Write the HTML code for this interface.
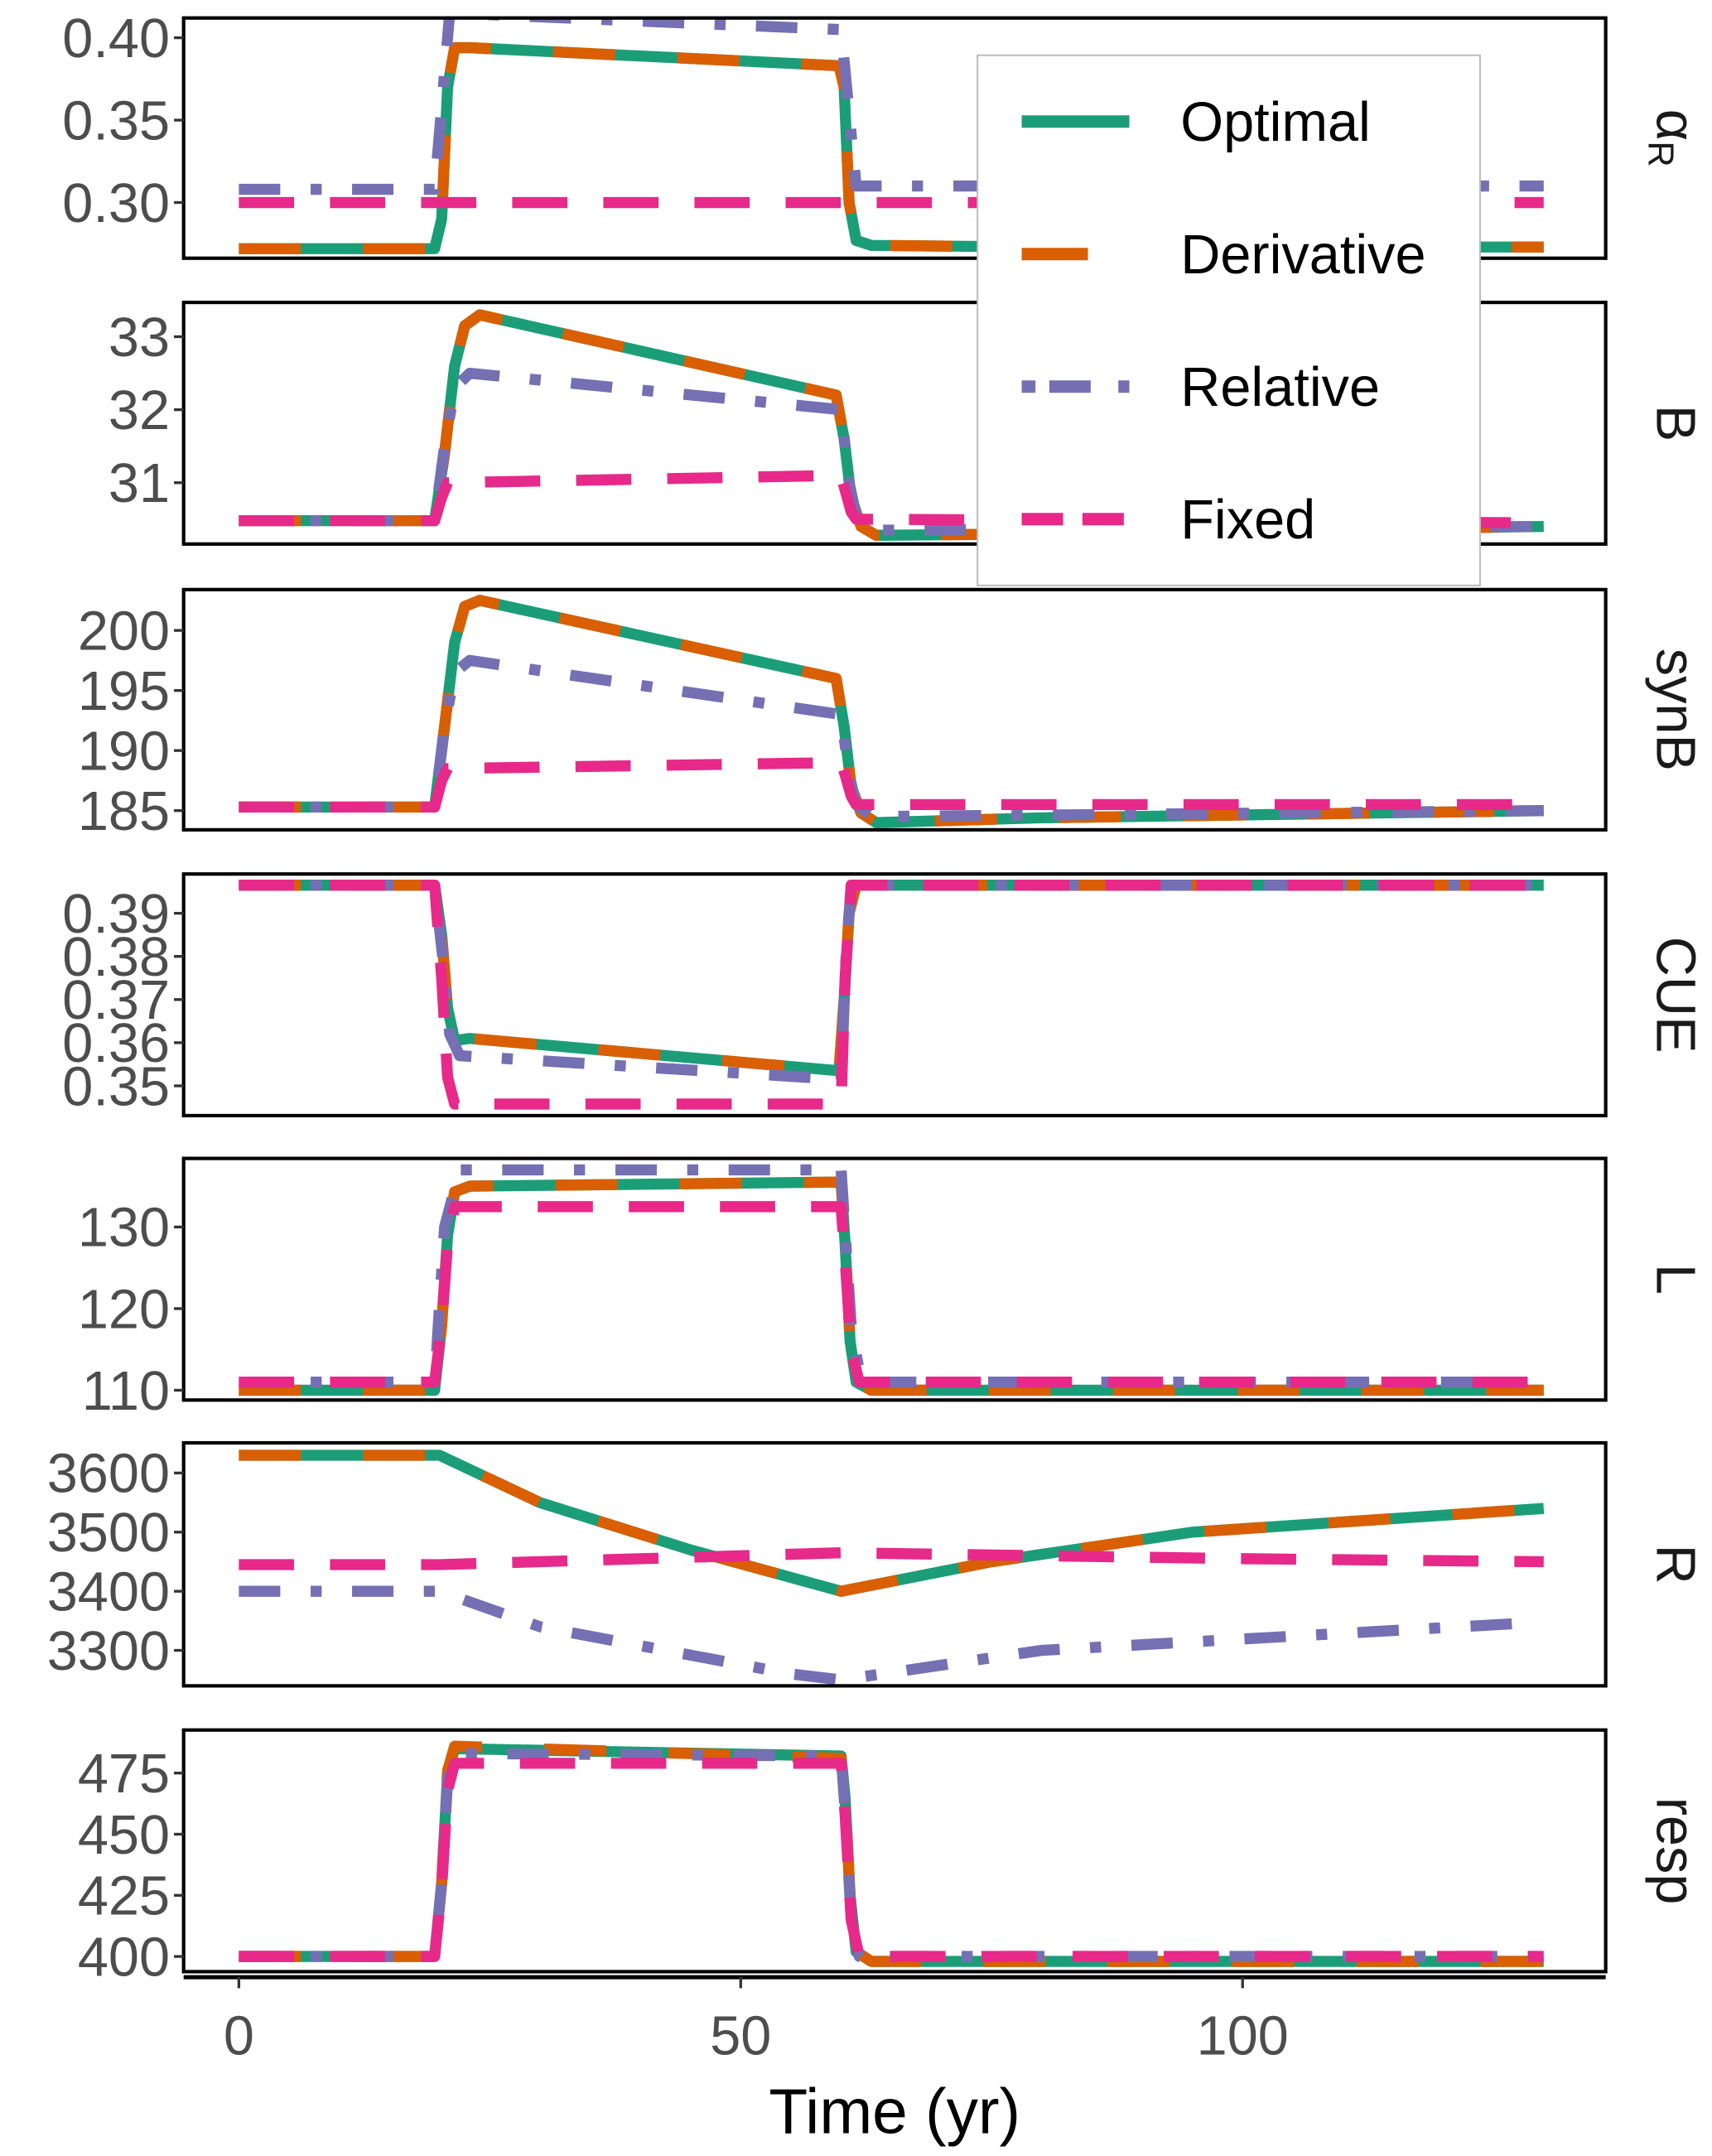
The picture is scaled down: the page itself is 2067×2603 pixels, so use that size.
<!DOCTYPE html>
<html><head><meta charset="utf-8"><style>
html,body{margin:0;padding:0;background:#fff}
svg{display:block}
text{font-family:"Liberation Sans",sans-serif}
</style></head><body>
<svg id="chart" xmlns="http://www.w3.org/2000/svg" width="2067" height="2603" viewBox="0 0 1240 1561.5">
<defs id="defs"></defs>
<g id="panels"></g>
<g id="legend">
<rect x="708" y="40" width="364" height="384" fill="#fff" stroke="#bbb" stroke-width="1.2"/>
</g>
</svg>
<script>
const seriesNames = ["Optimal","Derivative","Relative","Fixed"];
const colors = ["#1b9e77","#d95f02","#7570b3","#e7298a"];
const dashes = ["", "45 45", "30 22 8 22", "40 26"];
const xTicks = [0,50,100];

const tA = [0,19.5,20.2,20.8,21.5,23,59.8,60.3,60.8,61.5,63,80,130];
const panelLabels = ["αR","B","synB","CUE","L","R","resp"];
const panelTops = [13,219,427,633,839,1045,1253];
const panelBots = [187,394,601,808,1014,1221,1428];
const yDomains = [[0.2662,0.412],[30.16,33.47],[183.4,203.4],[0.3431,0.3991],[108.8,138.4],[3240,3651],[393.8,492.6]];
const yTicks = [[0.30,0.35,0.40],[31,32,33],[185,190,195,200],[0.35,0.36,0.37,0.38,0.39],[110,120,130],[3300,3400,3500,3600],[400,425,450,475]];
const tickFmt = [2,0,0,2,0,0,0];

const pAlpha = [
 {t:tA, v:[0.272,0.272,0.29,0.37,0.394,0.394,0.383,0.37,0.3,0.277,0.274,0.273,0.273]},
 {t:tA, v:[0.272,0.272,0.29,0.37,0.394,0.394,0.383,0.37,0.3,0.277,0.274,0.273,0.273]},
 {t:[0,19.5,21,60,61.5,130], v:[0.308,0.308,0.415,0.405,0.31,0.31]},
 {t:[0,130], v:[0.30,0.30]}];
const pB = [
 {t:[0,19.5,20.5,21.5,22.5,24,59.5,60.3,61,62,63.5,80,130], v:[30.48,30.48,31.4,32.6,33.15,33.3,32.2,31.6,30.8,30.4,30.28,30.3,30.4]},
 {t:[0,19.5,20.5,21.5,22.5,24,59.5,60.3,61,62,63.5,80,130], v:[30.48,30.48,31.4,32.6,33.15,33.3,32.2,31.6,30.8,30.4,30.28,30.3,30.4]},
 {t:[0,19.5,20.5,21.5,23,60,60.8,61.5,63,130], v:[30.48,30.48,31.5,32.3,32.5,32.0,31.0,30.55,30.35,30.4]},
 {t:[0,19.5,20.2,20.8,60,60.4,61,61.5,130], v:[30.48,30.48,30.8,31.0,31.1,30.9,30.6,30.5,30.45]}];
const pSyn = [
 {t:[0,19.5,20.5,21.5,22.5,24,59.5,60.3,61,62,63.5,80,130], v:[185.3,185.3,192,199,202,202.5,196,192,187,184.8,184,184.4,185]},
 {t:[0,19.5,20.5,21.5,22.5,24,59.5,60.3,61,62,63.5,80,130], v:[185.3,185.3,192,199,202,202.5,196,192,187,184.8,184,184.4,185]},
 {t:[0,19.5,20.5,21.5,23,60,60.8,61.5,63,130], v:[185.3,185.3,192,196.5,197.5,193,188,185.5,184.5,185]},
 {t:[0,19.5,20.2,20.8,60,60.4,61,61.5,130], v:[185.3,185.3,187.5,188.5,189,188,186.2,185.5,185.5]}];
const pCue = [
 {t:[0,19.5,20.2,20.8,21.5,23,59.8,60.3,60.8,61.5,130], v:[0.3965,0.3965,0.385,0.368,0.3605,0.361,0.3535,0.37,0.39,0.3965,0.3965]},
 {t:[0,19.5,20.2,20.8,21.5,23,59.8,60.3,60.8,61.5,130], v:[0.3965,0.3965,0.385,0.368,0.3605,0.361,0.3535,0.37,0.39,0.3965,0.3965]},
 {t:[0,19.5,20.3,21,22,60,60.5,61,130], v:[0.3965,0.3965,0.38,0.362,0.357,0.3515,0.38,0.3965,0.3965]},
 {t:[0,19.5,20.2,20.8,21.5,60,60.4,61,130], v:[0.3965,0.3965,0.375,0.352,0.3458,0.3458,0.375,0.3965,0.3965]}];
const pL = [
 {t:[0,19.5,20.2,20.8,21.5,23,60,60.4,60.9,61.5,63,130], v:[110,110,118,129,134.3,135,135.5,128,116,111,110,110]},
 {t:[0,19.5,20.2,20.8,21.5,23,60,60.4,60.9,61.5,63,130], v:[110,110,118,129,134.3,135,135.5,128,116,111,110,110]},
 {t:[0,19.5,20.5,22,60,61,62,130], v:[111,111,130,137,137,118,111,111]},
 {t:[0,19.5,20.2,20.8,21.5,60,60.4,61,61.8,130], v:[111,111,118,128,132.5,132.5,126,115,111,111]}];
const pR = [
 {t:[0,20,30,45,60,75,95,130], v:[3630,3630,3550,3470,3400,3450,3500,3540]},
 {t:[0,20,30,45,60,75,95,130], v:[3630,3630,3550,3470,3400,3450,3500,3540]},
 {t:[0,20,30,55,60,80,127], v:[3400,3400,3340,3260,3250,3300,3345]},
 {t:[0,20,50,60,100,130], v:[3445,3445,3460,3465,3455,3450]}];
const pResp = [
 {t:[0,19.5,20.2,20.8,21.5,60,60.4,60.9,61.5,63,130], v:[400,400,430,475,485,482,465,425,402,398,398]},
 {t:[0,19.5,20.2,20.8,21.5,60,60.4,60.9,61.5,63,130], v:[400,400,430,476,486,481,465,425,402,398,398]},
 {t:[0,19.5,20.2,20.8,21.5,60,60.4,61,61.8,130], v:[400,400,430,472,483,482,460,415,400,400]},
 {t:[0,19.5,20.2,20.8,21.5,60,60.4,61,61.8,130], v:[400,400,428,468,479,479,458,415,400,400]}];
const allPanels = [pAlpha,pB,pSyn,pCue,pL,pR,pResp];

const X0=133, X1=1163;
function xs(t){ return 173 + t*7.27; }
const NS="http://www.w3.org/2000/svg";
function el(tag, attrs, parent){
  const e=document.createElementNS(NS,tag);
  for(const k in attrs) e.setAttribute(k,attrs[k]);
  parent.appendChild(e); return e;
}
const defs=document.getElementById('defs');
const root=document.getElementById('panels');

allPanels.forEach((series,pi)=>{
  const top=panelTops[pi], bot=panelBots[pi], [d0,d1]=yDomains[pi];
  const ys=v=> bot - (v-d0)/(d1-d0)*(bot-top);
  const g=el('g',{},root);
  
  
  const cp=el('clipPath',{id:'cp'+pi},defs);
  el('rect',{x:X0,y:top,width:X1-X0,height:bot-top},cp);
  const lg=el('g',{'clip-path':'url(#cp'+pi+')'},g);
  series.forEach((s,si)=>{
    const pts=s.t.map((t,i)=>xs(t).toFixed(1)+','+ys(s.v[i]).toFixed(1)).join(' ');
    const pl=el('polyline',{points:pts,fill:'none',stroke:colors[si],'stroke-width':8,'stroke-linejoin':'round'},lg);
    if(dashes[si]) pl.setAttribute('stroke-dasharray',dashes[si]);
    
    
  });
  const fr=el('rect',{x:X0,y:top,width:X1-X0,height:bot-top,fill:'none',stroke:'#000','stroke-width':2.5},g);
  
  
  yTicks[pi].forEach(v=>{
    const y=ys(v);
    el('line',{x1:X0-7,x2:X0,y1:y,y2:y,stroke:'#333','stroke-width':2},g);
    const tx=el('text',{x:X0-10,y:y+14,'text-anchor':'end','font-size':40,fill:'#4d4d4d'},g);
    tx.textContent=v.toFixed(tickFmt[pi]);
    
    
  });
  const cy=(top+bot)/2;
  const st=el('text',{x:1200,y:cy,'text-anchor':'middle','font-size':40,fill:'#1a1a1a',transform:'rotate(90 1200 '+cy+')'},g);
  if(pi===0){ st.innerHTML='α<tspan font-size="26" dy="6">R</tspan>'; }
  else st.textContent=panelLabels[pi];
  
  
});

const ax=el('g',{},root);


el('line',{x1:X0,x2:X1,y1:1432,y2:1432,stroke:'#000','stroke-width':3},ax);
xTicks.forEach(t=>{
  el('line',{x1:xs(t),x2:xs(t),y1:1432,y2:1440,stroke:'#333','stroke-width':2},ax);
  const tx=el('text',{x:xs(t),y:1488,'text-anchor':'middle','font-size':40,fill:'#4d4d4d'},ax);
  tx.textContent=t;
  
  
});
const xt=el('text',{x:648,y:1545,'text-anchor':'middle','font-size':46,fill:'#000'},ax);
xt.textContent='Time (yr)';



const leg=document.getElementById('legend');
seriesNames.forEach((n,i)=>{
  const y=88+i*96;
  const ln=el('line',{x1:740,x2:818,y1:y,y2:y,stroke:colors[i],'stroke-width':9},leg);
  if(dashes[i]) ln.setAttribute('stroke-dasharray', i===1?'48 30':(i===2?'10 10 30 20':'30 14'));
  
  
  const tx=el('text',{x:855,y:y+14,'font-size':40,fill:'#000'},leg);
  tx.textContent=n;
  
  
});
</script>
</body></html>
